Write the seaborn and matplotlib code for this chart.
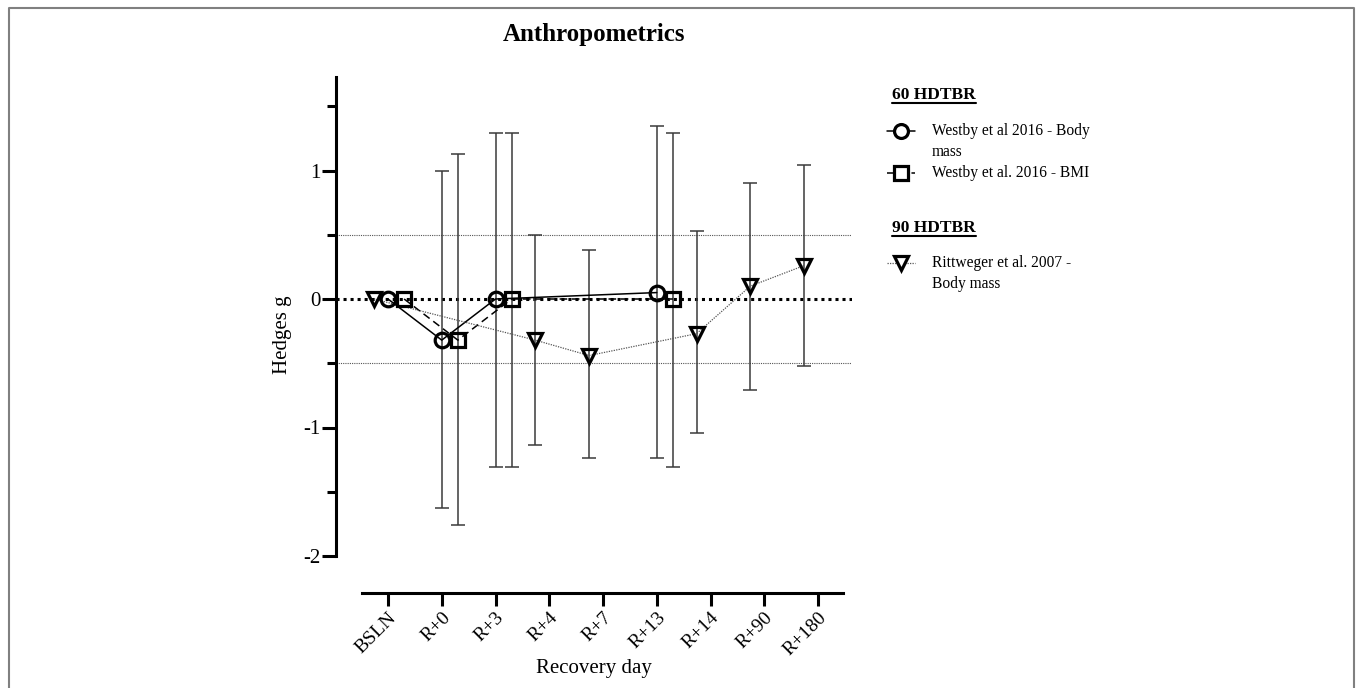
import numpy as np
import pandas as pd
import matplotlib
matplotlib.use('Agg')
import matplotlib.pyplot as plt
from matplotlib.lines import Line2D
import seaborn as sns

# Data (Hedges g with CI)
days = ['BSLN', 'R+0', 'R+3', 'R+4', 'R+7', 'R+13', 'R+14', 'R+90', 'R+180']

mass_days = ['BSLN', 'R+0', 'R+3', 'R+13']
mass_g = [0.0, -0.32, 0.0, 0.05]
mass_hi = [0.0, 1.00, 1.29, 1.35]
mass_lo = [0.0, -1.63, -1.31, -1.24]

bmi_days = ['BSLN', 'R+0', 'R+3', 'R+13']
bmi_g = [0.0, -0.32, 0.0, 0.0]
bmi_hi = [0.0, 1.13, 1.29, 1.29]
bmi_lo = [0.0, -1.76, -1.31, -1.31]

ritt_days = ['BSLN', 'R+4', 'R+7', 'R+14', 'R+90', 'R+180']
ritt_g = [0.0, -0.32, -0.44, -0.27, 0.10, 0.26]
ritt_hi = [0.0, 0.50, 0.38, 0.53, 0.90, 1.04]
ritt_lo = [0.0, -1.14, -1.24, -1.04, -0.71, -0.52]

W, H = 1357, 688
sns.set_style('ticks')
plt.rcParams['font.family'] = ['Liberation Serif', 'DejaVu Serif']
plt.rcParams['text.color'] = 'black'
plt.rcParams['axes.labelcolor'] = 'black'
plt.rcParams['xtick.color'] = 'black'
plt.rcParams['ytick.color'] = 'black'
plt.rcParams['axes.edgecolor'] = 'black'

fig = plt.figure(figsize=(W / 100, H / 100), dpi=100)
ax = fig.add_axes([336 / W, 1 - 593 / H, (852 - 336) / W, (593 - 77) / H])

series = [
    ('Westby et al 2016 - Body mass', mass_days, mass_g, mass_hi, mass_lo, 0.0, 'o'),
    ('Westby et al. 2016 - BMI', bmi_days, bmi_g, bmi_hi, bmi_lo, 0.3, 's'),
    ('Rittweger et al. 2007 - Body mass', ritt_days, ritt_g, ritt_hi, ritt_lo, -0.26, 'v'),
]
rows = []
for name, d, g, hi, lo, off, mk in series:
    for di, gi, hii, loi in zip(d, g, hi, lo):
        rows.append({'series': name, 'x': days.index(di) + off, 'g': gi, 'hi': hii, 'lo': loi})
df = pd.DataFrame(rows)

# reference lines
ax.axhline(0, color='black', lw=2.2, ls=(0, (1, 1.3)), zorder=1)
for v in (0.5, -0.5):
    ax.axhline(v, color='#555555', lw=0.8, ls=(0, (1, 1)), zorder=1)

styles = {
    'Westby et al 2016 - Body mass': dict(color='black', lw=1.1, ls='-'),
    'Westby et al. 2016 - BMI': dict(color='black', lw=1.1, ls=(0, (5, 3))),
    'Rittweger et al. 2007 - Body mass': dict(color='#555555', lw=0.9, ls=(0, (1, 1))),
}

for name, d, g, hi, lo, off, mk in series:
    sub = df[df['series'] == name]
    sub_e = sub[sub['x'] > 0.5]
    ax.errorbar(sub_e['x'], sub_e['g'],
                yerr=[sub_e['g'] - sub_e['lo'], sub_e['hi'] - sub_e['g']],
                fmt='none', ecolor='#3a3a3a', elinewidth=1.1, capsize=5, capthick=1.1, zorder=2)
    sns.lineplot(data=sub, x='x', y='g', ax=ax, estimator=None, sort=False,
                 color=styles[name]['color'], lw=styles[name]['lw'], zorder=3)
    ax.lines[-1].set_linestyle(styles[name]['ls'])
    ax.plot(sub['x'], sub['g'], ls='none', marker=mk, ms=10.5, mfc='none',
            mec='black', mew=2.3, zorder=4)

ax.set_xlim((336 - 388) / 53.75, (852 - 388) / 53.75)
ax.set_ylim((299 - 593) / 128.5, (299 - 77) / 128.5)
ax.set_xticks(range(len(days)))
ax.set_xticklabels(days, rotation=45, ha='right', rotation_mode='anchor', fontsize=14)
ax.set_yticks([-2, -1, 0, 1])
ax.set_yticklabels(['-2', '-1', '0', '1'], fontsize=15)
ax.set_yticks([-1.5, -0.5, 0.5, 1.5], minor=True)

sns.despine(ax=ax)
ax.spines['left'].set_bounds(-2, (299 - 77) / 128.5)
ax.spines['bottom'].set_bounds((362 - 388) / 53.75, (843 - 388) / 53.75)
for s in ('left', 'bottom'):
    ax.spines[s].set_linewidth(2.2)
ax.tick_params(axis='y', which='major', length=10, width=2.2, direction='out', pad=1)
ax.tick_params(axis='y', which='minor', length=6.5, width=2.2, direction='out')
ax.tick_params(axis='x', which='major', length=9.5, width=2.2, direction='out', pad=2)

ax.set_xlabel('Recovery day', fontsize=15, labelpad=0)
ax.set_ylabel('Hedges g', fontsize=15, labelpad=8)
ax.set_title('Anthropometrics', fontsize=18, fontweight='bold', pad=26)

# legend drawn by hand in figure pixels
def fx(px):
    return px / W

def fy(py):
    return 1 - py / H

for head, yh in (('60 HDTBR', 95), ('90 HDTBR', 228)):
    t = fig.text(fx(892), fy(yh), head, fontsize=12.5, fontweight='bold', va='center', ha='left')
    fig.canvas.draw()
    bb = t.get_window_extent()
    fig.add_artist(Line2D([bb.x0 / W, bb.x1 / W], [fy(yh + 8)] * 2, color='black', lw=1.5,
                          transform=fig.transFigure))

entries = [
    ('o', 131, 'Westby et al 2016 - Body\nmass', styles['Westby et al 2016 - Body mass']),
    ('s', 173, 'Westby et al. 2016 - BMI', styles['Westby et al. 2016 - BMI']),
    ('v', 263, 'Rittweger et al. 2007 -\nBody mass', styles['Rittweger et al. 2007 - Body mass']),
]
for mk, yy, label, st in entries:
    fig.add_artist(Line2D([fx(887), fx(915)], [fy(yy)] * 2, color=st['color'], lw=st['lw'],
                          ls=st['ls'], transform=fig.transFigure))
    fig.add_artist(Line2D([fx(901)], [fy(yy)], marker=mk, ms=10, mfc='white', mec='black',
                          mew=2.3, ls='none', transform=fig.transFigure))
    fig.text(fx(932), fy(yy - 8), label, fontsize=11.2, va='top', ha='left', linespacing=1.45)

# outer frame
fig.add_artist(Line2D([fx(9), fx(9), fx(1354), fx(1354)], [0, fy(8), fy(8), 0],
                      color='#808080', lw=1.5, transform=fig.transFigure))

fig.savefig('out.png', dpi=100)
